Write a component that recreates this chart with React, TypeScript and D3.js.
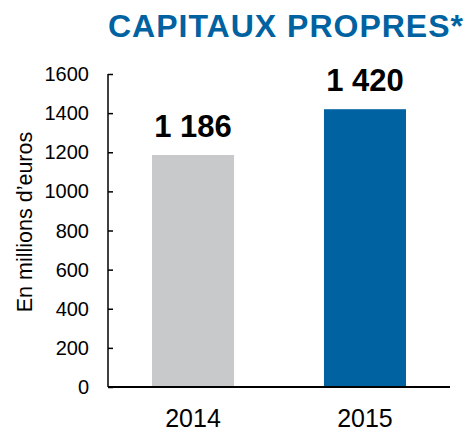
import { useRef, useEffect } from "react";
import * as d3 from "d3";

const years = ["2014", "2015"];
const values = [1186, 1420];
const valueLabels = ["1 186", "1 420"];
const yTicks = [0, 200, 400, 600, 800, 1000, 1200, 1400, 1600];
const barColors = ["#c8c9cb", "#0062a1"];

const App = () => {
  const svgRef = useRef<SVGSVGElement>(null);

  useEffect(() => {
    const svg = d3.select(svgRef.current);
    svg.selectAll("*").remove();

    const width = 469;
    const height = 431;
    const left = 108;
    const right = 450;
    const top = 74;
    const bottom = 387;
    const font = "Arial, 'Liberation Sans', sans-serif";

    svg.attr("width", width).attr("height", height);

    const x = d3
      .scaleBand()
      .domain(years)
      .range([left, right])
      .paddingInner(0.523)
      .paddingOuter(0.256);

    const y = d3.scaleLinear().domain([0, 1600]).range([bottom, top]);

    // title
    svg
      .append("text")
      .attr("x", 286)
      .attr("y", 37)
      .attr("text-anchor", "middle")
      .attr("font-family", font)
      .attr("font-weight", "bold")
      .attr("font-size", 32)
      .attr("letter-spacing", 1)
      .attr("fill", "#0062a1")
      .text("CAPITAUX PROPRES*");

    // bars
    svg
      .selectAll("rect.bar")
      .data(values)
      .enter()
      .append("rect")
      .attr("class", "bar")
      .attr("x", (d, i) => x(years[i])!)
      .attr("y", (d) => y(d))
      .attr("width", x.bandwidth())
      .attr("height", (d) => bottom - y(d))
      .attr("fill", (d, i) => barColors[i]);

    // value labels
    svg
      .selectAll("text.val")
      .data(values)
      .enter()
      .append("text")
      .attr("class", "val")
      .attr("x", (d, i) => x(years[i])! + x.bandwidth() / 2)
      .attr("y", (d) => y(d) - 18)
      .attr("text-anchor", "middle")
      .attr("font-family", font)
      .attr("font-weight", "bold")
      .attr("font-size", 31)
      .attr("fill", "#000")
      .text((d, i) => valueLabels[i]);

    // y axis
    const yAxis = svg
      .append("g")
      .attr("transform", `translate(${left},0)`)
      .call(d3.axisRight(y).tickValues(yTicks).tickSize(5).tickFormat(() => ""));
    yAxis.select(".domain").attr("stroke", "#000").attr("stroke-width", 1.5).attr("d", `M0,${top}V${bottom}`);
    yAxis.selectAll(".tick line").attr("stroke", "#000").attr("stroke-width", 1.5);

    svg
      .selectAll("text.ytick")
      .data(yTicks)
      .enter()
      .append("text")
      .attr("class", "ytick")
      .attr("x", 89)
      .attr("y", (d) => y(d))
      .attr("dy", "0.35em")
      .attr("text-anchor", "end")
      .attr("font-family", font)
      .attr("font-size", 20)
      .attr("fill", "#000")
      .text((d) => d);

    // baseline
    svg
      .append("line")
      .attr("x1", left)
      .attr("x2", right)
      .attr("y1", y(0))
      .attr("y2", y(0))
      .attr("stroke", "#000")
      .attr("stroke-width", 2);

    // x labels
    svg
      .selectAll("text.xlab")
      .data(years)
      .enter()
      .append("text")
      .attr("class", "xlab")
      .attr("x", (d) => x(d)! + x.bandwidth() / 2)
      .attr("y", 427)
      .attr("text-anchor", "middle")
      .attr("font-family", font)
      .attr("font-size", 25)
      .attr("fill", "#000")
      .text((d) => d);

    // y title
    svg
      .append("text")
      .attr("transform", "translate(32,222) rotate(-90)")
      .attr("text-anchor", "middle")
      .attr("font-family", font)
      .attr("font-size", 21.5)
      .attr("fill", "#000")
      .text("En millions d’euros");
  }, []);

  return <svg ref={svgRef} style={{ position: "absolute", left: 0, top: 0 }} />;
};

export default App;
